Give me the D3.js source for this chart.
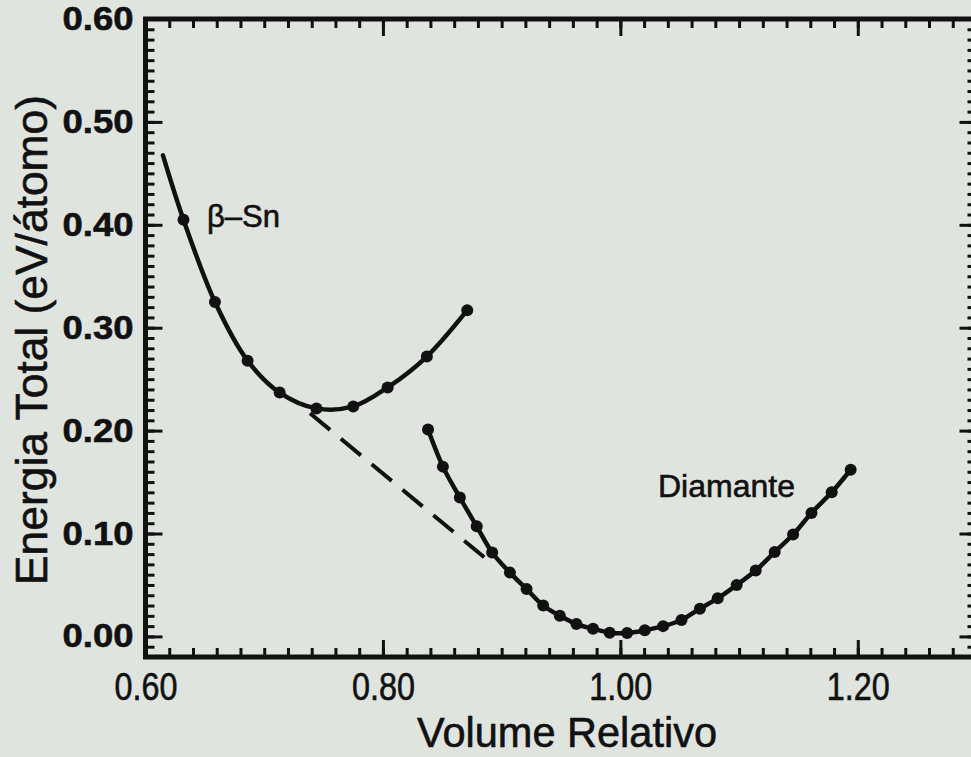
<!DOCTYPE html>
<html>
<head>
<meta charset="utf-8">
<script src="https://cdn.jsdelivr.net/npm/d3@7"></script>
<style>
  html, body { margin: 0; padding: 0; background: #dfe4df; }
  svg { display: block; }
  text { font-family: "Liberation Sans", Arial, Helvetica, sans-serif; fill: #111; stroke: #111; stroke-width: 0.6px; }
</style>
</head>
<body>
<svg id="chart" width="971" height="757"></svg>
<script>
// Relative volume V/V0 and total energy (eV/atom) for the two tin phases
const betaSnVolume = [0.6147, 0.632, 0.6585, 0.686, 0.713, 0.744, 0.775, 0.804, 0.837, 0.871];
const betaSnEnergy = [0.4675, 0.405, 0.325, 0.268, 0.237, 0.2216, 0.2235, 0.242, 0.272, 0.317];
// the first vertex only starts the fitted curve; markers begin at index 1
const betaSnMarked = [false, true, true, true, true, true, true, true, true, true];

const diamondVolume = [0.838, 0.8505, 0.8648, 0.879, 0.892, 0.907, 0.921, 0.935, 0.949, 0.963,
                       0.977, 0.991, 1.0057, 1.0206, 1.036, 1.0515, 1.067, 1.082, 1.098, 1.114,
                       1.130, 1.1455, 1.161, 1.178, 1.194];
const diamondEnergy = [0.201, 0.165, 0.135, 0.107, 0.0816, 0.062, 0.046, 0.030, 0.020, 0.012,
                       0.0075, 0.0036, 0.0033, 0.006, 0.010, 0.016, 0.027, 0.037, 0.050, 0.064,
                       0.082, 0.099, 0.120, 0.140, 0.162];

// common tangent between the two curves
const tangentVolume = [0.7386, 0.8915];
const tangentEnergy = [0.2168, 0.071];

const xMajorTicks = [0.60, 0.80, 1.00, 1.20];
const xTickLabels = ["0.60", "0.80", "1.00", "1.20"];
const yMajorTicks = [0.00, 0.10, 0.20, 0.30, 0.40, 0.50, 0.60];
const yTickLabels = ["0.00", "0.10", "0.20", "0.30", "0.40", "0.50", "0.60"];

const svg = d3.select("#chart");
const x = d3.scaleLinear().domain([0.60, 1.30]).range([145.5, 976.5]);
const y = d3.scaleLinear().domain([-0.02, 0.60]).range([657, 19]);

const xMinor = d3.range(30, 66).map(i => i * 0.02).filter(v => v <= 1.3001);
const yMinor = d3.range(-2, 61).map(i => i / 100);

const ink = "#111";
function styleAxis(g) {
  g.select(".domain").remove();
  g.selectAll(".tick line").attr("stroke", ink).attr("stroke-width", 3);
}

// minor ticks on all four sides, pointing inward
svg.append("g").attr("transform", `translate(${x.range()[0]},0)`)
  .call(d3.axisLeft(y).tickValues(yMinor).tickSize(-9).tickFormat(""))
  .call(styleAxis);
svg.append("g").attr("transform", `translate(${x.range()[1]},0)`)
  .call(d3.axisRight(y).tickValues(yMinor).tickSize(-9).tickFormat(""))
  .call(styleAxis);
svg.append("g").attr("transform", `translate(0,${y.range()[0]})`)
  .call(d3.axisBottom(x).tickValues(xMinor).tickSize(-9).tickFormat(""))
  .call(styleAxis);
svg.append("g").attr("transform", `translate(0,${y.range()[1]})`)
  .call(d3.axisTop(x).tickValues(xMinor).tickSize(-9).tickFormat(""))
  .call(styleAxis);

// major ticks with labels
const yAxis = svg.append("g").attr("transform", `translate(${x.range()[0]},0)`)
  .call(d3.axisLeft(y).tickValues(yMajorTicks).tickSize(-17).tickPadding(12)
    .tickFormat((d, i) => yTickLabels[i]))
  .call(styleAxis);
yAxis.selectAll(".tick text")
  .attr("font-size", 33).attr("font-weight", "bold").attr("fill", ink)
  .attr("font-family", "'Liberation Sans', Arial, sans-serif")
  .attr("textLength", 71).attr("lengthAdjust", "spacingAndGlyphs");

svg.append("g").attr("transform", `translate(${x.range()[1]},0)`)
  .call(d3.axisRight(y).tickValues(yMajorTicks).tickSize(-17).tickFormat(""))
  .call(styleAxis);

const xAxis = svg.append("g").attr("transform", `translate(0,${y.range()[0]})`)
  .call(d3.axisBottom(x).tickValues(xMajorTicks).tickSize(-17).tickPadding(16)
    .tickFormat((d, i) => xTickLabels[i]))
  .call(styleAxis);
xAxis.selectAll(".tick text")
  .attr("font-size", 38).attr("fill", ink)
  .attr("font-family", "'Liberation Sans', Arial, sans-serif")
  .attr("textLength", 63).attr("lengthAdjust", "spacingAndGlyphs");

svg.append("g").attr("transform", `translate(0,${y.range()[1]})`)
  .call(d3.axisTop(x).tickValues(xMajorTicks).tickSize(-17).tickFormat(""))
  .call(styleAxis);

// frame
svg.append("rect")
  .attr("x", x.range()[0]).attr("y", y.range()[1])
  .attr("width", x.range()[1] - x.range()[0]).attr("height", y.range()[0] - y.range()[1])
  .attr("fill", "none").attr("stroke", ink).attr("stroke-width", 5);

// axis titles
svg.append("text")
  .attr("x", 567).attr("y", 747).attr("text-anchor", "middle")
  .attr("font-size", 42).attr("textLength", 300).attr("lengthAdjust", "spacingAndGlyphs")
  .text("Volume Relativo");
svg.append("text")
  .attr("transform", "translate(47,340) rotate(-90)")
  .attr("text-anchor", "middle")
  .attr("font-size", 44).attr("textLength", 490).attr("lengthAdjust", "spacingAndGlyphs")
  .text("Energia Total (eV/átomo)");

// curves
const line = d3.line().x(d => x(d[0])).y(d => y(d[1])).curve(d3.curveCatmullRom);
const betaSn = betaSnVolume.map((v, i) => [v, betaSnEnergy[i], betaSnMarked[i]]);
const diamond = diamondVolume.map((v, i) => [v, diamondEnergy[i], true]);
const tangent = tangentVolume.map((v, i) => [v, tangentEnergy[i]]);

svg.append("path").datum(tangent)
  .attr("d", d3.line().x(d => x(d[0])).y(d => y(d[1])))
  .attr("fill", "none").attr("stroke", ink).attr("stroke-width", 4)
  .attr("stroke-dasharray", "26,14");

[betaSn, diamond].forEach(series => {
  svg.append("path").datum(series)
    .attr("d", line)
    .attr("fill", "none").attr("stroke", ink).attr("stroke-width", 4.5)
    .attr("stroke-linejoin", "round").attr("stroke-linecap", "round");
  svg.append("g").selectAll("circle")
    .data(series.filter(d => d[2]))
    .join("circle")
    .attr("cx", d => x(d[0])).attr("cy", d => y(d[1])).attr("r", 6)
    .attr("fill", ink);
});

// phase labels
svg.append("text").attr("x", 207).attr("y", 227).attr("font-size", 31).text("β–Sn");
svg.append("text").attr("x", 658).attr("y", 497).attr("font-size", 32).text("Diamante");
</script>
</body>
</html>
